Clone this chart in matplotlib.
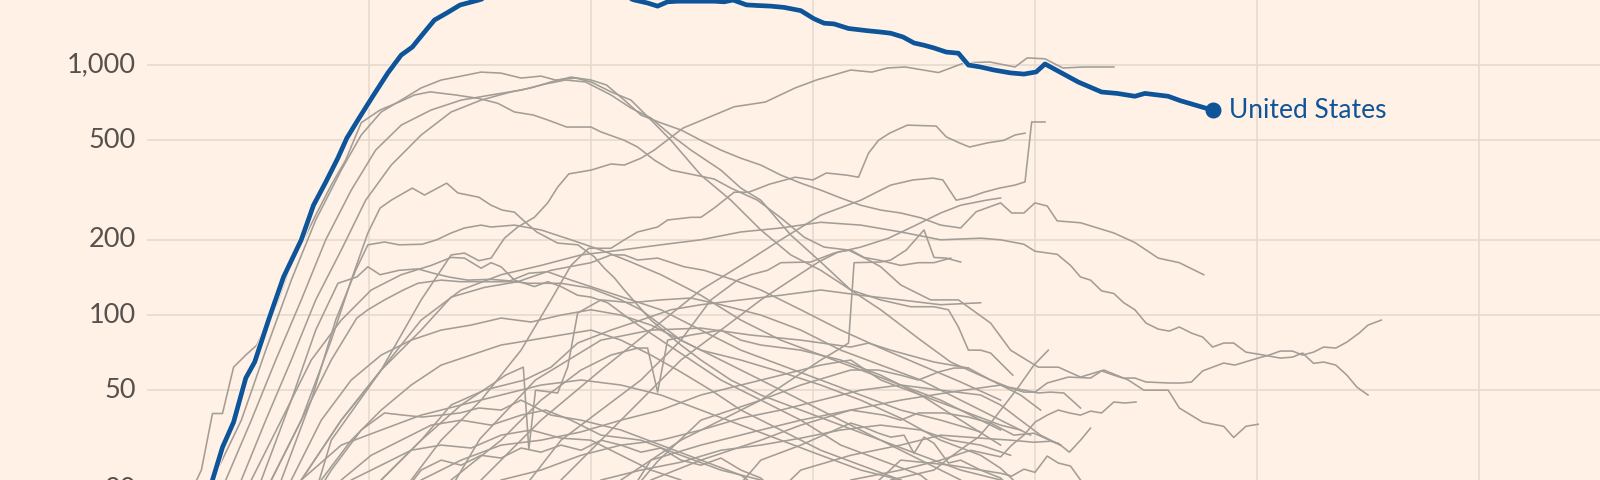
import matplotlib
matplotlib.use("Agg")
import matplotlib.pyplot as plt
import matplotlib.patheffects as pe
from matplotlib.ticker import NullLocator

# daily deaths (7-day avg), x = days since outbreak start
us_days = [0, 2, 4, 5.9, 6.8, 7.8, 8.9, 9.7, 11.0, 12.3, 13.9, 15.0, 16.1, 17.2, 18.0, 19.0,
           20.3, 21.7, 22.9, 23.9, 25.0, 25.9, 27.0, 28.2, 29.9, 32, 34, 36, 38, 40, 42,
           43.9, 45.1, 46.0, 46.9, 47.8, 49.3, 51.1, 52.0, 52.8, 54.0, 55.0, 56.2, 57.4,
           58.9, 60.1, 61.0, 61.9, 63.2, 65.0, 66.1, 67.0, 68.1, 69.1, 70.0, 70.9, 72.0,
           73.1, 74.0, 75.1, 76.3, 77.8, 79.0, 80.1, 80.9, 83.9, 86.0, 87.4, 89.0, 89.9,
           92.0, 93.1, 96.0]
us_vals = [3.1, 5.5, 11, 21.9, 29.6, 37.3, 56, 64.9, 97, 142, 200, 275, 340, 425, 510, 603,
           745, 930, 1096, 1180, 1355, 1514, 1614, 1738, 1820, 1950, 2050, 2100, 2150, 2050,
           1950, 1820, 1770, 1720, 1790, 1800, 1800, 1800, 1790, 1820, 1740, 1730, 1720,
           1700, 1650, 1530, 1470, 1460, 1400, 1370, 1355, 1340, 1295, 1225, 1200, 1170,
           1127, 1115, 1000, 982, 955, 930, 920, 938, 1010, 855, 780, 770, 750, 770, 750,
           720, 660]

italy = [(3.0, 16), (4.9, 24.0), (5.9, 40.4), (6.8, 40.4), (7.8, 61.9), (8.9, 69.2), (9.9, 75.9),
         (10.7, 91.2), (11.7, 111), (13.1, 166), (14.1, 200), (15.2, 251), (16.6, 331),
         (17.9, 417), (19.3, 588), (21.0, 661), (22.7, 711), (24.1, 759), (25.5, 781),
         (27.8, 759), (29.9, 735), (31.6, 703), (33.1, 649), (34.8, 631), (36.1, 603),
         (37.8, 565), (40.0, 565), (40.9, 540), (43.0, 500), (44.2, 470), (45.7, 417),
         (47.2, 380), (49.0, 366), (51.1, 350), (52.6, 322), (55.0, 288), (57.1, 245),
         (59.2, 205), (61.0, 187), (63.2, 182), (65.0, 166), (66.1, 156), (67.9, 132),
         (70.6, 115), (73.1, 115), (76.0, 92.9), (77.8, 72.4), (80.3, 61.9), (82.1, 61.9),
         (84.1, 56.5), (86.2, 60.3), (88.4, 55.0), (89.8, 50.1), (92.0, 50.1), (93.0, 42.5),
         (95.1, 37.3), (97.0, 35.9), (97.9, 32.4), (99.0, 35.9), (100.1, 36.6)]
spain = [(4, 16), (5.9, 21.9), (8.5, 38.0), (10.7, 72.4), (13.0, 138), (15.2, 240), (17.5, 380),
         (19.3, 525), (21.1, 649), (22.9, 724), (24.7, 810), (26.5, 871), (28.3, 903),
         (30.1, 937), (31.9, 928), (33.7, 887), (35.5, 903), (36.8, 871), (38.6, 887),
         (40.0, 856), (41.8, 781), (43.6, 724), (45.4, 603), (47.2, 500), (49.9, 363),
         (52.6, 288), (55.3, 219), (58.0, 174), (60.7, 151), (63.4, 126), (66.1, 115),
         (68.8, 108), (70.9, 108), (72.2, 105), (73.1, 89.6), (74.0, 72.4), (75.1, 72.4),
         (76.0, 70.5), (76.9, 64.3), (78.0, 57.5)]
uk = [(6.5, 16), (8.5, 21.9), (10.7, 38.0), (13.0, 66.1), (15.2, 115), (17.5, 182), (19.7, 288),
      (22.0, 398), (24.7, 525), (27.4, 649), (30.1, 724), (32.8, 781), (34.6, 810), (36.4, 856),
      (38.2, 895), (40.0, 871), (41.4, 832), (43.0, 724), (44.5, 631), (46.3, 587), (48.1, 550),
      (49.9, 500), (51.7, 457), (53.5, 424), (55.3, 398), (57.1, 363), (58.9, 337), (60.7, 316),
      (62.5, 294), (64.3, 275), (66.1, 263), (67.9, 256), (69.7, 245), (71.5, 229), (73.3, 223),
      (74.7, 259), (76.9, 281), (77.9, 256), (79.0, 256), (80.0, 281), (81.1, 273), (82.0, 238),
      (84.1, 234), (87.1, 213), (89.0, 195), (91.1, 169), (93.0, 162), (95.2, 145)]
france = [(5, 16), (7.1, 21.9), (9.4, 38.0), (11.6, 66.1), (13.9, 115), (16.1, 200), (18.4, 316),
          (20.6, 457), (22.9, 575), (25.6, 661), (28.3, 724), (31.0, 759), (33.7, 794),
          (35.9, 840), (37.7, 871), (39.5, 856), (41.8, 759), (43.6, 673), (45.4, 614),
          (47.2, 525), (49.0, 457), (51.7, 380), (53.5, 322), (55.3, 288), (58.0, 209),
          (60.7, 163), (63.4, 126), (66.1, 105), (69.7, 79.4), (72.4, 64.9), (76.0, 55.0),
          (78.7, 47.9), (80.5, 41.7)]
brazil = [(14.6, 16), (16.6, 31.6), (21.1, 60.3), (24.7, 115), (27.4, 174), (28.6, 177),
          (29.9, 165), (31.0, 169), (32.2, 203), (33.4, 225), (34.9, 246), (36.1, 281),
          (37.0, 325), (38.0, 367), (40.0, 380), (41.8, 402), (43.0, 398), (44.5, 424),
          (45.7, 457), (48.3, 560), (52.9, 681), (55.7, 711), (58.4, 810), (60.3, 871),
          (63.4, 955), (65.3, 937), (66.7, 973), (68.3, 982), (71.3, 933), (73.6, 1019),
          (75.9, 1029), (78.2, 982), (79.3, 1068), (80.9, 1059), (82.5, 973), (84.4, 982),
          (87.1, 982)]
mexico = [(21.5, 16), (26.5, 31.6), (30.1, 45.7), (33.7, 72.4), (36.4, 115), (38.2, 158),
          (39.8, 185), (41.8, 185), (43.0, 200), (44.2, 215), (46.0, 225), (46.9, 240),
          (49.0, 246), (49.9, 246), (51.1, 268), (52.9, 310), (54.2, 310), (56.1, 334),
          (58.4, 356), (60.0, 347), (61.2, 370), (63.0, 363), (64.1, 356), (65.0, 444),
          (65.9, 500), (66.9, 534), (68.5, 575), (71.1, 570), (72.0, 516), (73.2, 488),
          (74.1, 470), (75.7, 488), (77.2, 500), (78.2, 525), (79.1, 534)]
jump = [(28.5, 16), (30.1, 21.9), (35.5, 38.0), (40.9, 60.3), (45.4, 87.1), (49.9, 126),
        (53.5, 158), (57.1, 200), (60.7, 251), (64.3, 288), (67.0, 331), (69.0, 347), (70.8, 353),
        (71.7, 347), (72.9, 288), (74.1, 296), (75.4, 310), (76.8, 322), (78.2, 331), (79.1, 341),
        (79.7, 592), (80.9, 592)]
germany = [(9.5, 16), (11.2, 21.9), (13.9, 38.0), (16.6, 79.4), (18.4, 138), (19.9, 213),
           (21.0, 268), (22.0, 288), (23.9, 322), (25.0, 302), (27.0, 337), (28.0, 308),
           (29.9, 296), (31.0, 275), (32.0, 263), (33.1, 258), (34.1, 235), (35.1, 215),
           (37.0, 194), (38.8, 191), (40.3, 171), (41.2, 154), (42.1, 141), (43.0, 126),
           (45.4, 95.5), (48.1, 75.9), (49.9, 66.1), (52.6, 55.0), (55.3, 47.9), (58.9, 41.7),
           (62.5, 36.3), (66.1, 31.6), (69.7, 27.5), (73.3, 24.0), (76.9, 21.9), (79, 18)]
long_tail = [(12, 16), (13.9, 21.9), (17.5, 38.0), (21.1, 60.3), (24.7, 95.5), (28.3, 126),
             (31.9, 145), (35.5, 158), (39.1, 174), (42.7, 182), (46.3, 191), (49.9, 200),
             (53.5, 215), (57.1, 223), (60.7, 235), (64.3, 229), (67.9, 215), (71.5, 200),
             (75.1, 203), (76.9, 200), (79.0, 192), (80.0, 180), (82.0, 175), (83.2, 158),
             (84.1, 142), (85.0, 138), (86.0, 125), (87.1, 122), (88.0, 112), (89.0, 105),
             (90.0, 92.9), (91.1, 87.9), (92.1, 86.3), (93.0, 89.6), (94.1, 84.7), (95.1, 81.7),
             (96.0, 74.5), (97.0, 77.3), (97.9, 77.3), (99.0, 71.1), (100.1, 69.8),
             (102.1, 67.3), (103.2, 67.9), (104.1, 70.5), (105.1, 64.1), (106.0, 64.9),
             (107.1, 63.1), (108.1, 57.5), (109.0, 51.5), (110.0, 47.9)]
late_rise = [(43, 16), (45.4, 21.9), (49.9, 26.3), (55.3, 31.6), (58.9, 36.3), (63.4, 41.7),
             (67.9, 45.7), (72.4, 49.2), (76.9, 52.5), (79.0, 49.2), (80.0, 49.2), (81.1, 53.5),
             (83.0, 56.5), (85.0, 56.0), (86.0, 59.8), (87.1, 57.5), (87.9, 56.0), (89.0, 56.0),
             (90.0, 54.0), (92.1, 53.5), (93.2, 53.5), (94.1, 54.0), (95.1, 59.8), (96.0, 61.9),
             (97.0, 64.3), (98.0, 63.1), (100.1, 67.3), (101.1, 69.2), (102.1, 71.8),
             (103.2, 71.8), (104.1, 69.2), (105.1, 71.1), (106.0, 74.5), (107.1, 73.8),
             (108.1, 78.0), (109.2, 84.7), (110.0, 91.2), (111.2, 95.5)]
steep = [(66, 16), (67.0, 21.9), (70.9, 24.0), (72.4, 27.1), (73.6, 29.6), (74.9, 32.5),
         (76.0, 37.0), (77.6, 45.7), (78.5, 51.5), (79.9, 63.1), (81.2, 72.4)]
low_a = [(61, 16), (63.4, 21.9), (67.9, 24.0), (71.5, 26.3), (74.2, 28.8), (76.9, 27.1),
         (77.9, 30.2), (79.0, 33.1), (80.0, 37.3), (81.1, 39.8), (82.1, 41.7), (83.1, 40.6),
         (84.1, 39.8), (85.0, 41.3), (86.0, 40.6), (87.1, 44.9), (88.1, 44.5), (89.1, 44.9)]
low_b = [(56, 18), (58.9, 24.0), (63.4, 27.5), (67.9, 30.2), (71.5, 33.1), (75.1, 32.2),
         (77.8, 31.6), (79.9, 31.0), (81.4, 31.3), (82.1, 30.7), (83.1, 28.3), (84.1, 31.6),
         (85.0, 35.3)]
low_c = [(65, 20), (67.9, 26.3), (72.4, 25.1), (75.1, 24.0), (76.9, 23.3), (77.9, 22.7),
         (79.0, 24.2), (80.0, 23.5), (81.1, 27.3), (82.1, 25.6), (83.2, 24.9), (84.1, 21.9),
         (85.0, 19.1)]
mid_a = [(26, 16), (30, 32), (35, 55), (40.9, 79.4), (45.4, 87.1), (49.9, 88.7), (54.4, 83.2),
         (58.9, 79.4), (63.4, 74.5), (65.0, 77.3), (67.0, 72.4), (70.9, 64.9), (74.0, 61.4),
         (76.0, 55.0), (77.6, 51.5), (79.0, 50.1), (80.3, 48.8), (81.4, 49.2), (82.6, 48.8),
         (84.1, 42.5)]
mid_b = [(42, 16), (46, 26), (49.9, 38.0), (55.3, 45.7), (58.9, 52.5), (63.4, 60.3), (65.9, 60.3),
         (67.9, 57.5), (69.5, 55.0), (71.3, 59.2), (72.7, 61.4), (74.0, 61.4)]
mid_c = [(43, 18), (45.4, 26.3), (49.9, 30.2), (55.3, 34.7), (58.9, 38.0), (63.4, 41.7),
         (66.4, 39.8), (67.9, 38.0), (69.5, 40.6), (71.8, 40.6), (74.0, 39.1), (76.0, 37.0),
         (78.1, 33.1), (79.9, 33.7), (82.3, 30.2)]
mid_d = [(53, 20), (55.3, 26.3), (58.9, 30.2), (63.4, 37.0), (64.6, 35.6), (65.9, 33.7),
         (67.0, 32.5), (68.2, 33.1), (69.1, 28.0), (70.0, 32.5), (70.9, 30.7), (72.2, 25.6),
         (73.3, 26.3), (75.1, 24.0), (76.9, 22.3), (78.5, 19)]
peak_a = [(7.5, 16), (9.4, 21.9), (12.1, 38.0), (14.8, 66.1), (17.5, 95.5), (20.2, 126),
          (22.9, 145), (25.6, 158), (27.4, 170), (28.6, 169), (30.1, 154), (31.0, 162),
          (31.9, 156), (33.1, 138), (34.0, 134), (34.9, 130), (36.1, 136), (37.3, 130),
          (38.8, 120), (40.0, 118), (41.5, 112), (43.6, 95.5), (46.3, 79.4), (49.0, 66.1),
          (51.7, 55.0), (55.3, 45.7), (58.9, 38.0), (62.5, 30.2), (66.1, 26.3), (69.7, 22.9),
          (72, 19)]
peak_b = [(8.5, 16), (10.3, 21.9), (13.0, 45.7), (15.2, 87.1), (17.2, 134), (18.9, 142),
          (19.9, 156), (21.0, 145), (22.7, 151), (24.4, 153), (25.8, 147), (27.2, 142),
          (28.9, 138), (31.0, 139), (32.7, 137), (34.4, 147), (36.1, 149), (38.2, 138),
          (40.9, 126), (43.6, 115), (46.3, 105), (49.9, 87.1), (53.5, 72.4), (57.1, 63.1),
          (60.7, 55.0), (64.3, 47.9), (67.9, 41.7), (71.5, 38.0), (75.1, 34.1)]
peak_c = [(9.5, 16), (11.2, 21.9), (13.9, 38.0), (16.6, 66.1), (18.9, 97.3), (19.9, 105),
          (21.4, 115), (23.1, 126), (24.4, 134), (26.5, 138), (28.2, 136), (30.3, 136),
          (33.1, 136), (34.4, 134), (37.3, 134), (40.0, 128), (42.7, 115), (44.5, 105),
          (46.3, 91.2), (48.1, 79.4), (49.9, 72.4), (53.5, 66.1), (57.1, 59.2), (60.7, 52.5),
          (64.3, 45.7), (67.9, 38.7), (71.5, 31.6), (75.1, 27.5), (76.9, 24.4), (79, 20)]
peak_d = [(10.5, 16), (12.1, 21.9), (14.8, 45.7), (17.0, 95.5), (18.8, 151), (19.9, 191),
          (21.4, 196), (22.7, 191), (24.8, 192), (26.1, 200), (27.4, 213), (28.6, 223),
          (30.1, 229), (31.0, 225), (33.1, 229), (35.5, 219), (38.2, 200), (40.9, 182),
          (43.6, 163), (46.3, 145), (49.9, 120), (53.5, 95.5), (57.1, 79.4), (60.7, 69.2),
          (64.3, 60.3), (67.9, 52.5), (71.5, 45.7), (75.1, 38.0), (76.9, 34.7)]
spiky_a = [(25.5, 16), (27.4, 21.9), (31.9, 31.6), (35.5, 45.7), (39.1, 60.3), (41.8, 69.2),
           (44.2, 73.8), (45.1, 73.8), (46.0, 49.2), (46.9, 79.4), (49.0, 83.2), (51.7, 87.1),
           (53.5, 79.4), (55.3, 75.9), (58.9, 72.4), (62.5, 66.1), (66.1, 57.5), (69.7, 47.9),
           (73.3, 38.0), (76.9, 30.2)]
spiky_b = [(19.5, 16), (21.1, 21.9), (24.7, 31.6), (28.3, 43.7), (31.0, 52.5), (32.3, 57.5),
           (33.9, 61.9), (34.4, 29.1), (35.0, 50.1), (37.0, 48.8), (37.9, 61.9), (38.8, 102),
           (40.9, 115), (43.6, 112), (46.3, 115), (49.0, 117), (51.7, 110), (55.3, 100),
           (58.9, 87.1), (62.5, 72.4), (66.1, 63.1), (69.7, 55.0), (73.3, 45.7), (76.9, 38.0),
           (79.6, 33.1)]
spiky_c = [(41, 16), (42.7, 21.9), (48.1, 31.6), (51.7, 38.0), (55.3, 45.7), (58.0, 55.0),
           (60.7, 66.1), (62.5, 73.8), (63.2, 77.3), (63.7, 162), (66.1, 163), (67.0, 166),
           (68.4, 182), (70.0, 219), (70.9, 170), (72.0, 169), (73.3, 163)]
climb_a = [(35.5, 16), (37.3, 21.9), (40.9, 31.6), (44.5, 45.7), (48.1, 66.1), (51.7, 87.1),
           (55.3, 115), (58.0, 138), (60.5, 163), (62.3, 179), (63.4, 182), (64.6, 170),
           (65.9, 166), (67.9, 158), (69.5, 162), (70.9, 162), (72.4, 169)]
climb_b = [(33, 18), (37.3, 31.6), (40.9, 41.7), (44.5, 55.0), (48.1, 79.4), (50.8, 115),
           (53.2, 138), (54.4, 145), (55.9, 151), (57.1, 162), (59.8, 163), (61.9, 177),
           (64.3, 187), (66.8, 203), (69.1, 227), (71.5, 256), (73.3, 275), (75.6, 288),
           (76.9, 294)]
plateau = [(12, 16), (13.9, 21.9), (17.5, 38.0), (21.1, 60.3), (24.7, 87.1), (27.4, 118),
           (30.4, 129), (33.4, 136), (36.4, 151), (40.0, 162), (41.8, 174), (43.0, 174),
           (44.2, 166), (46.0, 169), (48.4, 156), (50.2, 151), (52.9, 138), (55.3, 126),
           (58.9, 105), (62.5, 87.1), (66.1, 73.8), (69.7, 63.1), (73.3, 54.0), (76.9, 45.7)]
small_1 = [(12, 16), (13.9, 21.9), (17.5, 30.2), (21.1, 34.7), (24.7, 39.8), (28.3, 43.7),
           (31.9, 47.9), (35.5, 52.5), (39.1, 55.0), (42.7, 52.5), (46.3, 47.9), (49.9, 41.7),
           (53.5, 36.3), (57.1, 31.6), (60.7, 27.5), (64.3, 24.0), (67.9, 21.9), (70, 19)]
small_2 = [(14.5, 17), (16.6, 24.0), (19.3, 34.7), (21.4, 40.6), (23.1, 39.8), (24.8, 39.1),
           (26.5, 39.8), (28.2, 40.6), (29.9, 42.5), (31.9, 41.7), (33.7, 45.7), (36.4, 39.8),
           (39.1, 38.0), (42.7, 34.7), (46.3, 30.2), (49.9, 26.3), (53.5, 22.9), (56, 19)]
small_3 = [(15.5, 17), (17.5, 21.9), (20.2, 27.5), (22.9, 31.6), (25.6, 36.3), (28.3, 38.0),
           (31.0, 36.3), (33.7, 39.8), (35.9, 41.7), (38.2, 38.0), (40.9, 33.1), (44.5, 31.6),
           (48.1, 27.5), (51.7, 24.0), (55.3, 21.9), (58, 19)]
small_4 = [(30, 18), (31.9, 21.9), (35.5, 24.0), (39.1, 27.5), (42.7, 30.2), (46.3, 31.6),
           (49.9, 34.7), (53.5, 38.7), (57.1, 41.7), (60.7, 45.7), (64.3, 50.1), (67.9, 52.5),
           (71.5, 50.1), (75.1, 47.9), (76.9, 43.7), (78.7, 38.0), (80.5, 33.1), (82.3, 30.2)]
small_5 = [(23, 18), (24.7, 21.9), (28.3, 26.3), (31.9, 30.2), (35.5, 31.6), (39.1, 34.1),
           (42.7, 38.0), (46.3, 41.7), (49.9, 47.9), (53.5, 52.5), (57.1, 57.5), (60.7, 63.1),
           (63.4, 66.1), (66.1, 55.0), (69.7, 47.9), (73.3, 41.7), (76.9, 36.3), (78.7, 34.7)]
small_6 = [(22.5, 18), (24.7, 24.0), (26.5, 26.3), (28.3, 25.1), (30.1, 27.5), (31.9, 26.8),
           (33.7, 29.4), (35.5, 28.3), (37.3, 30.2), (39.1, 28.8), (40.9, 31.6), (42.7, 30.2),
           (44.5, 28.3), (46.3, 29.4), (48.1, 26.3), (49.9, 25.1), (51.7, 26.8), (53.5, 24.0),
           (55.3, 22.3), (57, 19)]
small_7 = [(39, 18), (40.9, 21.9), (44.5, 24.0), (48.1, 25.8), (51.7, 28.8), (55.3, 30.2),
           (58.9, 32.2), (62.5, 34.7), (66.1, 36.3), (69.7, 34.7), (72.4, 31.6), (75.1, 30.2),
           (77.8, 27.5)]
small_8 = [(16.5, 18), (18.4, 21.9), (21.1, 25.1), (23.8, 28.8), (26.5, 30.2), (29.2, 29.4),
           (31.9, 33.1), (34.6, 34.7), (37.3, 32.2), (40.0, 31.6), (42.7, 27.5), (45.4, 24.0),
           (48.1, 21.9), (50, 19)]
hump_a = [(11, 16), (13.0, 21.9), (15.7, 38.0), (18.4, 55.0), (21.1, 69.2), (23.8, 79.4),
          (26.5, 87.1), (29.2, 91.2), (31.9, 97.3), (34.6, 93.8), (37.3, 100), (40.0, 105),
          (42.7, 100), (45.4, 91.2), (48.1, 79.4), (51.7, 66.1), (55.3, 55.0), (58.9, 45.7),
          (62.5, 38.0), (66.1, 31.6), (69.7, 26.3), (73.3, 21.9), (75, 19)]
hump_b = [(14, 17), (15.7, 21.9), (18.4, 31.6), (21.1, 41.7), (23.8, 52.5), (26.5, 63.1),
          (29.2, 69.2), (31.9, 75.9), (34.6, 79.4), (37.3, 83.2), (40.0, 87.1), (42.7, 79.4),
          (45.4, 69.2), (48.1, 59.2), (50.8, 50.1), (53.5, 41.7), (57.1, 34.7), (60.7, 28.8),
          (64.3, 25.1), (67.9, 21.9), (70, 19)]
hump_c = [(19.5, 17), (21.1, 21.9), (24.7, 31.6), (27.4, 43.7), (30.4, 50.1), (34.0, 55.0),
          (36.4, 61.9), (38.8, 77.3), (41.8, 87.1), (44.5, 95.5), (47.2, 105), (49.9, 110),
          (53.5, 115), (57.1, 120), (60.7, 126), (64.3, 120), (67.9, 115), (71.5, 110),
          (75.1, 112)]

grey_series = [italy, spain, uk, france, brazil, mexico, jump, germany, long_tail, late_rise,
               steep, low_a, low_b, low_c, mid_a, mid_b, mid_c, mid_d, peak_a, peak_b, peak_c,
               peak_d, spiky_a, spiky_b, spiky_c, climb_a, climb_b, plateau, small_1, small_2,
               small_3, small_4, small_5, small_6, small_7, small_8, hump_a, hump_b, hump_c]

y_ticks = [20, 50, 100, 200, 500, 1000]
x_grid = [20, 40, 60, 80, 100, 120]

BG = "#fff1e5"
GRID = "#e6d9ce"
GREY = "#a39d97"
BLUE = "#0f5499"
TEXT = "#57514d"

fig = plt.figure(figsize=(16, 4.8), dpi=100, facecolor=BG)
ax = fig.add_axes([147 / 1600, 0, 1 - 147 / 1600, 1])
ax.set_facecolor(BG)
ax.set_yscale("log")
ax.set_xlim(0, 130.9)
ax.set_ylim(21.9, 1820)

for v in y_ticks:
    ax.axhline(v, color=GRID, lw=1.2, zorder=0)
for d in x_grid:
    ax.axvline(d, color=GRID, lw=1.2, zorder=0)

for s in grey_series:
    d, v = zip(*s)
    ax.plot(d, v, color=GREY, lw=1.15, zorder=2)

ax.plot(us_days, us_vals, color=BLUE, lw=3.4, zorder=4, solid_capstyle="round",
        path_effects=[pe.Stroke(linewidth=4.6, foreground="#fdf6ee"), pe.Normal()])
ax.plot(us_days[-1], us_vals[-1], "o", color=BLUE, ms=10.5, zorder=5)
ax.annotate("United States", (us_days[-1], us_vals[-1]), xytext=(12, 0),
            textcoords="offset points", va="center", ha="left", color=BLUE,
            fontsize=19, family="Lato")

ax.set_xticks([])
ax.set_yticks([])
ax.yaxis.set_minor_locator(NullLocator())
for v in y_ticks:
    ax.text(-0.0076, v, f"{v:,}", transform=ax.get_yaxis_transform(), ha="right",
            va="center", color=TEXT, fontsize=19.5, family="Lato", clip_on=False)

for sp in ax.spines.values():
    sp.set_visible(False)

fig.savefig("out.png", dpi=100, facecolor=BG)
